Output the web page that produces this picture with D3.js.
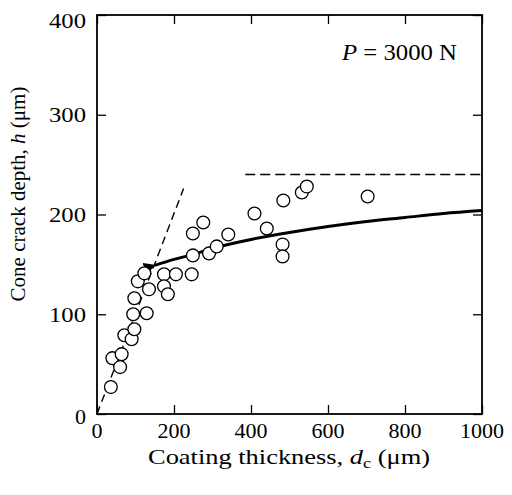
<!DOCTYPE html>
<html>
<head>
<meta charset="utf-8">
<script src="https://cdn.jsdelivr.net/npm/d3@7"></script>
<style>
  body { margin: 0; background: #fff; }
  svg { display: block; }
  text { font-family: "Liberation Serif", "Times New Roman", serif; fill: #000; }
</style>
</head>
<body>
<svg></svg>
<script>
// measured cone crack depths (um) vs coating thickness (um)
const thickness = [36, 40, 60, 64, 71, 90, 97, 94, 129, 97, 106, 123, 135, 174, 174, 184, 205,
                   246, 249, 249, 276, 291, 311, 341, 409, 441, 484, 482, 482, 532, 545, 703];
const depth     = [27, 56, 47, 60, 79, 75, 85, 100, 101, 116, 133, 141, 125, 140, 128, 120, 140,
                   140, 159, 181, 192, 161, 168, 180, 201, 186, 214, 170, 158, 222, 228, 218];

// solid model curve
const fitThickness = [150, 200, 250, 300, 400, 500, 600, 700, 800, 900, 1000];
const fitDepth     = [149, 155, 160, 166, 175, 182, 188, 193, 197, 201, 204];

// dashed limits
const steepThickness = [0, 225];
const steepDepth     = [0, 226];
const plateauThickness = [385, 1000];
const plateauDepth     = [240, 240];

const xTicks = [0, 200, 400, 600, 800, 1000];
const yTicks = [0, 100, 200, 300, 400];

(function (d3) {
    'use strict';
    const width = 512;
    const height = 495;
    const margin = { top: 15, right: 30, bottom: 81, left: 97 };
    const innerWidth = width - margin.left - margin.right;
    const innerHeight = height - margin.top - margin.bottom;

    const svg = d3.select('svg')
        .attr('width', width)
        .attr('height', height);

    const x = d3.scaleLinear().domain([0, 1000]).range([0, innerWidth]);
    const y = d3.scaleLinear().domain([0, 400]).range([innerHeight, 0]);

    const g = svg.append('g')
        .attr('transform', `translate(${margin.left}, ${margin.top})`);

    // ticks pointing inward on all four sides
    const tickLen = 9;
    const axisStyle = sel => {
        sel.select('.domain').remove();
        sel.selectAll('line').attr('stroke', '#000').attr('stroke-width', 1.3);
    };
    g.append('g').attr('transform', `translate(0, ${innerHeight})`)
        .call(d3.axisBottom(x).tickValues(xTicks).tickSize(-tickLen).tickFormat(''))
        .call(axisStyle);
    g.append('g')
        .call(d3.axisTop(x).tickValues(xTicks).tickSize(-tickLen).tickFormat(''))
        .call(axisStyle);
    g.append('g')
        .call(d3.axisLeft(y).tickValues(yTicks).tickSize(-tickLen).tickFormat(''))
        .call(axisStyle);
    g.append('g').attr('transform', `translate(${innerWidth}, 0)`)
        .call(d3.axisRight(y).tickValues(yTicks).tickSize(-tickLen).tickFormat(''))
        .call(axisStyle);

    g.append('rect')
        .attr('width', innerWidth)
        .attr('height', innerHeight)
        .attr('fill', 'none')
        .attr('stroke', '#000')
        .attr('stroke-width', 1.8);

    // tick labels
    g.selectAll('.xlab').data(xTicks)
        .enter().append('text')
            .attr('class', 'xlab')
            .attr('x', d => x(d))
            .attr('y', innerHeight + 24)
            .attr('text-anchor', 'middle')
            .attr('font-size', 22)
            .text(d => d);
    g.selectAll('.ylab').data(yTicks)
        .enter().append('text')
            .attr('class', 'ylab')
            .attr('x', -11)
            .attr('y', d => y(d) + (d === 400 ? 5 : 0) + (d === 0 ? 2 : 0))
            .attr('dy', '0.35em')
            .attr('text-anchor', 'end')
            .attr('font-size', 22)
            .attr('textLength', d => d === 0 ? null : 37)
            .attr('lengthAdjust', 'spacingAndGlyphs')
            .text(d => d);

    // dashed limit lines
    const line = d3.line().x(d => x(d[0])).y(d => y(d[1]));
    g.append('path')
        .datum(d3.zip(steepThickness, steepDepth))
        .attr('d', line)
        .attr('fill', 'none')
        .attr('stroke', '#000')
        .attr('stroke-width', 1.4)
        .attr('stroke-dasharray', '8,5');
    g.append('path')
        .datum(d3.zip(plateauThickness, plateauDepth))
        .attr('d', line)
        .attr('fill', 'none')
        .attr('stroke', '#000')
        .attr('stroke-width', 1.5)
        .attr('stroke-dasharray', '10,5');

    // model curve with arrow tip
    svg.append('defs').append('marker')
        .attr('id', 'tip')
        .attr('viewBox', '0 0 10 10')
        .attr('refX', 1).attr('refY', 5)
        .attr('markerWidth', 4).attr('markerHeight', 4)
        .attr('orient', 'auto-start-reverse')
        .append('path')
            .attr('d', 'M0,5 L10,0 L10,10 Z')
            .attr('fill', '#000');
    g.append('path')
        .datum(d3.zip(fitThickness, fitDepth))
        .attr('d', line.curve(d3.curveMonotoneX))
        .attr('fill', 'none')
        .attr('stroke', '#000')
        .attr('stroke-width', 3)
        .attr('marker-start', 'url(#tip)');

    // data points
    g.selectAll('circle').data(d3.zip(thickness, depth))
        .enter().append('circle')
            .attr('cx', d => x(d[0]))
            .attr('cy', d => y(d[1]))
            .attr('r', 6.4)
            .attr('fill', '#fff')
            .attr('stroke', '#000')
            .attr('stroke-width', 1.3);

    // annotation
    const ann = g.append('text')
        .attr('x', 245)
        .attr('y', 45)
        .attr('font-size', 23)
        .attr('textLength', 115)
        .attr('lengthAdjust', 'spacingAndGlyphs');
    ann.append('tspan').attr('font-style', 'italic').text('P');
    ann.append('tspan').text(' = 3000 N');

    // axis titles
    const xt = svg.append('text')
        .attr('x', 148)
        .attr('y', 464)
        .attr('font-size', 22)
        .attr('textLength', 282)
        .attr('lengthAdjust', 'spacingAndGlyphs');
    xt.append('tspan').text('Coating thickness, ');
    xt.append('tspan').attr('font-style', 'italic').text('d');
    xt.append('tspan').attr('font-size', 15).attr('dy', 4).text('c');
    xt.append('tspan').attr('dy', -4).text(' (\u03bcm)');

    const yt = svg.append('text')
        .attr('transform', `translate(25, 194) rotate(-90)`)
        .attr('text-anchor', 'middle')
        .attr('font-size', 21);
    yt.append('tspan').text('Cone crack depth, ');
    yt.append('tspan').attr('font-style', 'italic').text('h');
    yt.append('tspan').text(' (\u03bcm)');
}(d3));
</script>
</body>
</html>
